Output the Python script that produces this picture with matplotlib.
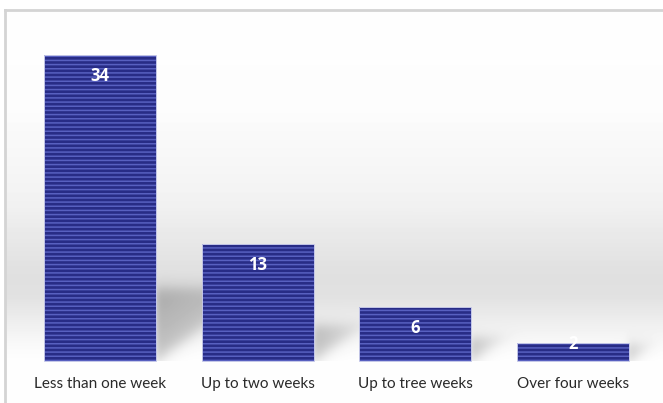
import numpy as np
import matplotlib
matplotlib.use("Agg")
import matplotlib.pyplot as plt

categories = ["Less than one week", "Up to two weeks", "Up to tree weeks", "Over four weeks"]
values = [34, 13, 6, 2]

plt.rcParams['font.family'] = ['Lato', 'DejaVu Sans']
plt.rcParams['hatch.linewidth'] = 1.1

W, H = 663, 403
fig = plt.figure(figsize=(W / 100, H / 100), dpi=100)
fig.patch.set_facecolor('white')

ax_left, ax_top = 5, 10
ax = fig.add_axes([ax_left / W, 0, 1 - ax_left / W, (H - ax_top) / H])

px = 9.0                      # pixels per data unit (vertical)
base_row = 361                # baseline pixel row
ymin = -(H - base_row) / px
ymax = (base_row - ax_top) / px
spacing = 157.67              # pixels per category
x0 = (100 - ax_left) / spacing
xmin = -x0
xmax = (W - ax_left) / spacing - x0
ax.set_xlim(xmin, xmax)
ax.set_ylim(ymin, ymax)

# ---- background: soft grey band + bar shadows, rendered as one image ----
ny, nx = H - ax_top, W - ax_left
rows = np.arange(ny) + ax_top + 0.5
gx = np.linspace(xmin, xmax, nx)
gy = (base_row - rows) / px      # data y for each image row (top -> bottom)
prof_rows = [10, 110, 200, 250, 280, 300, 330, 350, 361]
prof_vals = [0.995, 0.99, 0.95, 0.90, 0.875, 0.89, 0.95, 0.985, 0.995]
prof = np.interp(rows, prof_rows, prof_vals)
prof[rows > base_row] = 0.995
G = np.repeat(prof[:, None], nx, axis=1)
XX, YY = np.meshgrid(gx, gy)

bar_w = 0.71
xs = np.arange(len(categories))

def sig(z):
    return 1 / (1 + np.exp(-z))

shadow = np.zeros_like(G)
for x, v in zip(xs, values):
    r = x + bar_w / 2
    h_px = v * px
    top = (12 + 0.2 * h_px) / px           # shadow top (data units)
    w = 1.4 * (12 + 0.2 * h_px) / spacing  # shadow reach (data units)
    dx = (XX - r) / w                      # 0 at bar edge, 1 at tip
    edge = top * dx                        # lower diagonal edge
    a = (sig((top - YY) * px / 4) *
         sig((YY - edge) * px / 5) *
         sig((XX - r) * spacing / 2) *
         np.clip(1 - 0.5 * dx, 0, 1) *
         (YY > 0))
    shadow = np.maximum(shadow, 0.24 * a)
G = G * (1 - shadow)
ax.imshow(G, cmap='gray', vmin=0, vmax=1, aspect='auto',
          extent=[xmin, xmax, ymin, ymax], zorder=0, interpolation='bilinear')

ax.bar(xs, values, width=bar_w, color='#282c86', edgecolor='#5860c0',
       linewidth=0, hatch='----', zorder=2)
ax.bar(xs, values, width=bar_w, facecolor='none', edgecolor='#c4c7e8',
       linewidth=0.7, zorder=3)

for x, v in zip(xs, values):
    ly = v - 2.3 if v > 4 else v - 0.1
    ax.text(x, ly, str(v), ha='center', va='center', color='white',
            fontsize=12, fontweight='bold', family=['Open Sans', 'DejaVu Sans'],
            zorder=4)

for x, c in zip(xs, categories):
    ax.text(x, -23 / px, c, ha='center', va='center', color='#2a2a2a',
            fontsize=11, zorder=4)

ax.set_xticks([])
ax.set_yticks([])
for s in ['right', 'bottom']:
    ax.spines[s].set_visible(False)
for s in ['left', 'top']:
    ax.spines[s].set_color('#d4d4d4')
    ax.spines[s].set_linewidth(2)

fig.savefig('out.png', dpi=100)
